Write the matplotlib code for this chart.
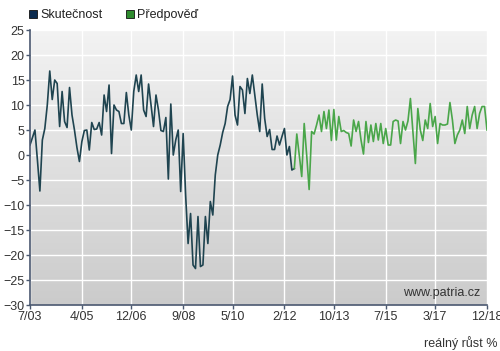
import numpy as np
import matplotlib.pyplot as plt
from matplotlib.patches import Rectangle

plt.rcParams['font.family'] = ['Liberation Sans', 'DejaVu Sans']

# měsíční hodnoty od 7/2003 (skutečnost) a navazující předpověď
skutecnost = [
    2.0, 3.5, 5.0, -1.0, -7.2, 3.0, 5.3, 10.0, 16.8, 11.1,
    15.0, 14.3, 5.7, 12.7, 6.7, 5.5, 13.5, 8.0, 5.0, 1.5,
    -1.3, 2.7, 4.9, 5.0, 1.0, 6.5, 5.1, 5.2, 6.5, 4.0,
    12.0, 8.7, 14.0, 0.3, 10.0, 9.0, 8.7, 6.3, 6.3, 12.5,
    8.0, 5.0, 12.7, 16.0, 12.7, 16.0, 9.0, 7.7, 14.2, 10.0,
    5.7, 12.0, 9.0, 4.9, 4.7, 7.5, -4.8, 10.2, 0.0, 3.0,
    5.0, -7.3, 4.3, -8.0, -17.7, -11.7, -22.0, -22.7, -12.3, -22.3,
    -22.0, -12.3, -17.7, -9.3, -12.0, -4.0, 0.0, 2.0, 4.5, 6.3,
    9.7, 11.1, 15.8, 8.0, 6.0, 13.7, 13.0, 8.3, 15.3, 12.3,
    16.0, 12.0, 8.0, 4.7, 14.2, 7.3, 3.7, 5.1, 1.1, 1.1,
    3.8, 2.0, 3.7, 5.3, 0.0, 1.7, -3.0, -2.7,
]
predpoved = [
    -2.7, 4.2, 0.0, -4.3, 6.3, 0.0, -6.9, 4.7, 4.2, 6.0,
    8.0, 4.7, 8.7, 5.3, 9.0, 2.9, 9.1, 3.0, 7.7, 4.7,
    4.9, 4.5, 4.3, 1.8, 7.0, 4.7, 6.7, 3.0, 0.2, 6.7,
    2.5, 6.0, 2.7, 6.3, 3.0, 6.3, 2.3, 5.3, 2.0, 2.0,
    6.7, 7.0, 6.8, 2.3, 6.7, 5.0, 6.8, 11.3, 4.7, -1.7,
    9.3, 5.0, 2.9, 7.0, 5.3, 10.3, 5.7, 7.7, 2.3, 6.3,
    6.0, 6.0, 6.2, 10.5, 7.0, 2.3, 4.0, 5.0, 7.0, 4.3,
    9.7, 5.3, 8.0, 9.7, 5.3, 8.3, 9.7, 9.7, 5.0,
]
tick_labels = ["7/03", "4/05", "12/06", "9/08", "5/10", "2/12",
               "10/13", "7/15", "3/17", "12/18"]


def mesic(label):
    m, r = label.split("/")
    return (2000 + int(r)) * 12 + int(m) - (2003 * 12 + 7)


x_skut = np.arange(len(skutecnost))
x_pred = np.arange(len(predpoved)) + len(skutecnost) - 1
ticks = [mesic(t) for t in tick_labels]

fig = plt.figure(figsize=(5.0, 3.51), dpi=100)
ax = fig.add_axes([0.06, 0.131, 0.914, 0.7835])

# pozadí s přechodem
grad = np.linspace(0, 1, 256).reshape(-1, 1)
ax.imshow(grad, cmap=plt.matplotlib.colors.LinearSegmentedColormap.from_list(
    "bg", ["#f3f3f3", "#cbcbcb"]), aspect="auto", extent=[0, 1, 0, 1],
    transform=ax.transAxes, zorder=0)

ax.plot(x_skut, skutecnost, color="#1f4450", lw=1.2, zorder=3)
ax.plot(x_pred, predpoved, color="#4aa64a", lw=1.2, zorder=3)

ax.set_xlim(0, ticks[-1])
ax.set_ylim(-30, 25)
ax.set_yticks(range(-30, 26, 5))
ax.set_xticks(ticks)
ax.set_xticklabels(tick_labels)
ax.grid(True, color="white", lw=1.0, zorder=1)
ax.set_axisbelow(False)
for gl in ax.get_xgridlines() + ax.get_ygridlines():
    gl.set_zorder(1)

for s in ["top", "right"]:
    ax.spines[s].set_visible(False)
for s in ["left", "bottom"]:
    ax.spines[s].set_color("#4a5870")
    ax.spines[s].set_linewidth(1.2)
    ax.spines[s].set_zorder(4)
ax.tick_params(colors="#4a5870", length=3, width=1, labelsize=9,
               labelcolor="#333333", pad=1)

ax.text(0.985, 0.045, "www.patria.cz", transform=ax.transAxes,
        ha="right", va="center", fontsize=9, color="#333333", zorder=5)
fig.text(0.994, 0.022, "reálný růst %", ha="right", va="center",
         fontsize=9, color="#333333")

# legenda
fig.patches.append(Rectangle((0.058, 0.948), 0.016, 0.023, transform=fig.transFigure,
                             facecolor="#0b2b4f", edgecolor="#111111", lw=0.6))
fig.text(0.081, 0.958, "Skutečnost", fontsize=9, va="center", color="#222222")
fig.patches.append(Rectangle((0.252, 0.948), 0.016, 0.023, transform=fig.transFigure,
                             facecolor="#2e8b2e", edgecolor="#111111", lw=0.6))
fig.text(0.275, 0.958, "Předpověď", fontsize=9, va="center", color="#222222")

fig.savefig("out.png", dpi=100)
